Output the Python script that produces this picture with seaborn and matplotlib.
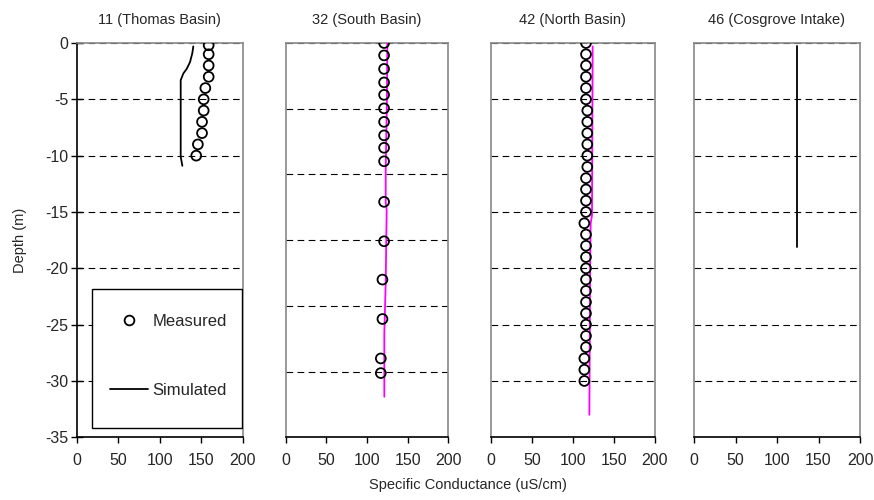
import matplotlib
matplotlib.use('Agg')
import matplotlib.pyplot as plt
import seaborn as sns
from matplotlib.lines import Line2D
from matplotlib.patches import Rectangle

# station titles
titles = ['11 (Thomas Basin)', '32 (South Basin)', '42 (North Basin)', '46 (Cosgrove Intake)']

# station 11 (Thomas Basin)
meas11_depth = [-0.2, -1, -2, -3, -4, -5, -6, -7, -8, -9, -10]
meas11_sc = [159, 159, 159, 159, 155, 153, 153, 151, 151, 146, 144]
sim11_depth = [-0.3, -0.9, -1.7, -2.3, -2.7, -3.3, -10.1, -10.9]
sim11_sc = [140.5, 139.3, 136.5, 132.5, 128.5, 125.3, 125.3, 127.3]

# station 32 (South Basin)
meas32_depth = [0, -1.1, -2.3, -3.5, -4.6, -5.8, -7.0, -8.2, -9.3, -10.5,
                -14.1, -17.6, -21.0, -24.5, -28.0, -29.3]
meas32_sc = [121, 121, 121, 121, 121, 121, 121, 121, 121, 121,
             121, 121, 119, 119, 117, 117]
sim32_depth = [0, -5, -11.3, -14.2, -14.8, -21.3, -25.8, -31.4]
sim32_sc = [125, 124.5, 123, 123, 124.2, 123, 121.3, 121.3]

# station 42 (North Basin)
meas42_depth = [0, -1, -2, -3, -4, -5, -6, -7, -8, -9, -10, -11, -12, -13, -14, -15,
                -16, -17, -18, -19, -20, -21, -22, -23, -24, -25, -26, -27, -28, -29, -30]
meas42_sc = [116, 116, 116, 116, 116, 116, 117.6, 117.6, 117.6, 117.6, 117.6, 117.6,
             116, 116, 116, 116, 114, 116, 116, 116, 116, 116, 116, 116, 116, 116,
             116, 116, 114, 114, 114]
sim42_depth = [-0.3, -15.3, -16.0, -20.2, -33.0]
sim42_sc = [124.1, 123.3, 121.7, 121.0, 120.1]

# station 46 (Cosgrove Intake)
sim46_depth = [-0.3, -18.1]
sim46_sc = [124.5, 124.5]

depth_ticks = [0, -5, -10, -15, -20, -25, -30, -35]
sc_ticks = [0, 50, 100, 150, 200]
# the south basin panel has its dashed lines on a six-way split
grid_ticks = [depth_ticks,
              [0, -35 / 6, -70 / 6, -17.5, -140 / 6, -175 / 6, -35],
              depth_ticks,
              depth_ticks]

sns.set_style('white')
plt.rcParams['font.family'] = ['Liberation Sans', 'DejaVu Sans']
plt.rcParams['axes.unicode_minus'] = False

fig = plt.figure(figsize=(8.74, 5.0), dpi=100)
W, H = 874, 500
boxes = [(76.7, 242.7), (285.7, 448.3), (490.7, 655.0), (694.0, 860.0)]
top_px, bot_px = 43.0, 437.3

measured = [(meas11_sc, meas11_depth), (meas32_sc, meas32_depth), (meas42_sc, meas42_depth), None]
simulated = [(sim11_sc, sim11_depth, 'black'), (sim32_sc, sim32_depth, '#ff00ff'),
             (sim42_sc, sim42_depth, '#ff00ff'), (sim46_sc, sim46_depth, 'black')]

axes = []
for i, (x0, x1) in enumerate(boxes):
    ax = fig.add_axes([x0 / W, 1 - bot_px / H, (x1 - x0) / W, (bot_px - top_px) / H])
    axes.append(ax)
    sc, dp, col = simulated[i]
    sns.lineplot(x=sc, y=dp, sort=False, estimator=None, color=col, lw=1.3, ax=ax, zorder=3)
    if measured[i] is not None:
        msc, mdp = measured[i]
        sns.scatterplot(x=msc, y=mdp, marker='o', s=50, facecolors='none',
                        edgecolors='black', linewidth=1.3, ax=ax, zorder=4)
    ax.set_xlim(0, 200)
    ax.set_ylim(-35, 0)
    ax.set_xticks(sc_ticks)
    ax.set_yticks(grid_ticks[i])
    ax.yaxis.grid(True, linestyle=(0, (6, 4)), color='black', lw=0.8)
    ax.xaxis.grid(False)
    ax.set_title(titles[i], fontsize=10.5, pad=14)
    ax.tick_params(axis='x', direction='out', length=4, width=1, color='black',
                   labelsize=11.5, pad=7, bottom=True)
    for side in ['top', 'right', 'left']:
        ax.spines[side].set_color('#888888')
        ax.spines[side].set_linewidth(1.2)
    ax.spines['bottom'].set_color('black')
    ax.spines['bottom'].set_linewidth(1.2)
    if i == 0:
        ax.spines['left'].set_color('black')
        ax.tick_params(axis='y', direction='inout', length=8, width=1, color='black',
                       labelsize=11.5, pad=2, left=True)
        ax.set_yticklabels([str(t) for t in depth_ticks])
        ax.set_ylabel('Depth (m)', fontsize=10.5, labelpad=13)
    else:
        ax.tick_params(axis='y', left=False, labelleft=False)
        ax.set_ylabel('')

# legend frame drawn as its own box so the entries can sit loosely inside it
ax0 = axes[0]
ax0.add_patch(Rectangle((0.09, 0.024), 0.904, 0.351, transform=ax0.transAxes,
                        facecolor='white', edgecolor='black', lw=1.0, zorder=8))
handles = [Line2D([], [], marker='o', ls='', mfc='none', mec='black', mew=1.3, ms=7),
           Line2D([], [], color='black', lw=1.3)]
leg = ax0.legend(handles, ['Measured', 'Simulated'], loc='center left',
                 bbox_to_anchor=(0.2006, 0.2066), fontsize=12, frameon=False,
                 labelspacing=3.2, handlelength=2.3, handletextpad=0.24,
                 borderpad=0, borderaxespad=0)
leg.set_zorder(10)

fig.text(468 / W, 1 - 485 / H, 'Specific Conductance (uS/cm)', ha='center', va='center', fontsize=10.5)

fig.savefig('out.png', dpi=100)
